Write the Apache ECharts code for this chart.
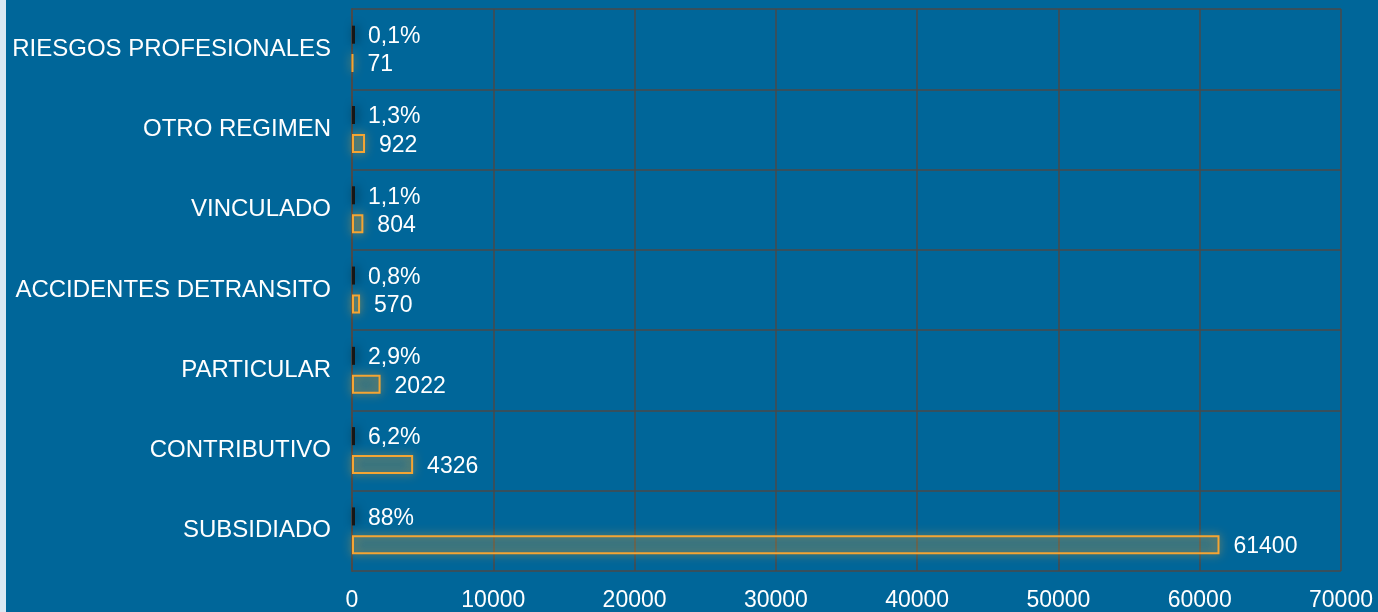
<!DOCTYPE html>
<html>
<head>
<meta charset="utf-8">
<script src="https://cdn.jsdelivr.net/npm/echarts@6/dist/echarts.min.js"></script>
<style>
  html, body { margin: 0; padding: 0; }
  body { background: #dbe8f2; }
  #chart { position: absolute; left: 6px; top: 0; width: 1372px; height: 612px; background: #006699; }
</style>
</head>
<body>
<div id="chart"></div>
<script>
// categorias (de abajo hacia arriba)
const categorias = [
  "SUBSIDIADO",
  "CONTRIBUTIVO",
  "PARTICULAR",
  "ACCIDENTES DETRANSITO",
  "VINCULADO",
  "OTRO REGIMEN",
  "RIESGOS PROFESIONALES",
];
const porcentajes = [88, 6.2, 2.9, 0.8, 1.1, 1.3, 0.1];
const pacientes = [61400, 4326, 2022, 570, 804, 922, 71];
const ticksX = [0, 10000, 20000, 30000, 40000, 50000, 60000, 70000];

const myChart = echarts.init(document.getElementById("chart"));

const fuente = "'Liberation Sans', Arial, sans-serif";

const options = {
  animation: false,
  grid: { left: 346, right: 37, top: 9, bottom: 41, containLabel: false },
  xAxis: {
    type: "value",
    min: ticksX[0],
    max: ticksX[ticksX.length - 1],
    interval: 10000,
    axisLine: { show: false },
    axisTick: { show: false },
    axisLabel: {
      color: "#fff",
      fontSize: 23,
      fontFamily: fuente,
      margin: 18,
      formatter: (v) => String(v),
    },
    splitLine: { show: true, lineStyle: { color: "#4a4a4a", width: 1.5 } },
  },
  yAxis: {
    type: "category",
    data: categorias,
    axisLine: { show: true, lineStyle: { color: "#4a4a4a", width: 2 } },
    axisTick: { show: false },
    axisLabel: { color: "#fff", fontSize: 24, fontFamily: fuente, margin: 21 },
    splitLine: { show: true, lineStyle: { color: "#4a4a4a", width: 1.5 } },
  },
  series: [
    {
      name: "Porcentaje",
      type: "bar",
      data: porcentajes,
      barWidth: 18,
      barGap: "55%",
      barMinHeight: 3,
      itemStyle: {
        color: "#161616",
        shadowColor: "rgba(0,0,0,0.55)",
        shadowBlur: 10,
        shadowOffsetX: 2,
      },
      label: {
        show: true,
        position: "right",
        distance: 13,
        offset: [0, 2],
        color: "#fff",
        fontSize: 23,
        fontFamily: fuente,
        formatter: (p) => String(p.value).replace(".", ",") + "%",
      },
    },
    {
      name: "Pacientes",
      type: "bar",
      data: pacientes,
      barWidth: 19,
      itemStyle: {
        color: "rgba(240,160,48,0.12)",
        borderColor: "#f5a533",
        borderWidth: 2,
        shadowColor: "rgba(245,170,50,0.8)",
        shadowBlur: 10,
      },
      label: {
        show: true,
        position: "right",
        distance: 14,
        offset: [0, 2],
        color: "#fff",
        fontSize: 23,
        fontFamily: fuente,
      },
    },
  ],
};

myChart.setOption(options);
</script>
</body>
</html>
